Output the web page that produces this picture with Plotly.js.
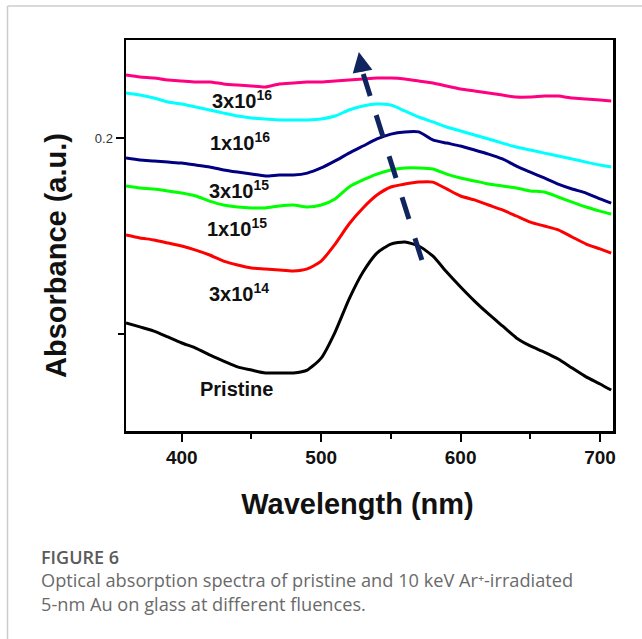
<!DOCTYPE html>
<html>
<head>
<meta charset="utf-8">
<script src="https://cdn.plot.ly/plotly-3.0.1.min.js"></script>
<style>
html,body{margin:0;padding:0;background:#fff;}
#chart{width:642px;height:639px;}
</style>
</head>
<body>
<div id="chart"></div>
<script>
// ---- data ----
const wavelength = [360,370,380,390,400,410,420,430,440,450,460,470,480,490,500,510,520,530,540,550,560,570,580,590,600,610,620,630,640,650,660,670,680,690,700,708];

const pristine = [0.1056,0.1036,0.1015,0.0985,0.0954,0.0928,0.0893,0.0862,0.0832,0.0816,0.0801,0.0801,0.0801,0.0816,0.0877,0.1010,0.1178,0.1316,0.1413,0.1459,0.1469,0.1449,0.1398,0.1316,0.1240,0.1168,0.1102,0.1041,0.0980,0.0939,0.0908,0.0872,0.0826,0.0781,0.0745,0.0714];
const f3e14 = [0.1505,0.1490,0.1480,0.1464,0.1449,0.1428,0.1403,0.1372,0.1352,0.1337,0.1332,0.1326,0.1321,0.1332,0.1372,0.1459,0.1561,0.1643,0.1709,0.1750,0.1765,0.1775,0.1775,0.1740,0.1704,0.1684,0.1658,0.1633,0.1602,0.1571,0.1551,0.1531,0.1495,0.1459,0.1434,0.1413];
const f1e15 = [0.1755,0.1745,0.1740,0.1730,0.1719,0.1704,0.1678,0.1658,0.1648,0.1643,0.1643,0.1653,0.1658,0.1648,0.1658,0.1689,0.1750,0.1786,0.1816,0.1837,0.1847,0.1847,0.1842,0.1816,0.1796,0.1781,0.1765,0.1755,0.1745,0.1730,0.1724,0.1699,0.1673,0.1648,0.1627,0.1612];
const f3e15 = [0.1898,0.1888,0.1883,0.1877,0.1872,0.1862,0.1852,0.1837,0.1826,0.1816,0.1806,0.1811,0.1811,0.1821,0.1847,0.1883,0.1923,0.1959,0.1995,0.2020,0.2031,0.2031,0.1990,0.1974,0.1959,0.1939,0.1918,0.1893,0.1857,0.1826,0.1796,0.1765,0.1740,0.1719,0.1689,0.1668];
const f1e16 = [0.2230,0.2219,0.2204,0.2184,0.2173,0.2158,0.2143,0.2127,0.2112,0.2102,0.2097,0.2092,0.2092,0.2092,0.2097,0.2112,0.2143,0.2163,0.2173,0.2168,0.2138,0.2107,0.2082,0.2056,0.2036,0.2015,0.1995,0.1974,0.1954,0.1939,0.1923,0.1908,0.1893,0.1877,0.1862,0.1852];
const f3e16 = [0.2321,0.2311,0.2306,0.2296,0.2291,0.2286,0.2286,0.2276,0.2270,0.2265,0.2260,0.2276,0.2281,0.2286,0.2286,0.2291,0.2296,0.2301,0.2306,0.2306,0.2301,0.2291,0.2281,0.2265,0.2250,0.2240,0.2230,0.2219,0.2209,0.2209,0.2214,0.2214,0.2204,0.2199,0.2194,0.2189];

const seriesNames = ['Pristine','3x10<sup>14</sup>','1x10<sup>15</sup>','3x10<sup>15</sup>','1x10<sup>16</sup>','3x10<sup>16</sup>'];
const seriesValues = [pristine, f3e14, f1e15, f3e15, f1e16, f3e16];
const seriesColors = ['#000000','#ff0000','#00ff00','#000080','#00ffff','#ff0080'];
// label anchor positions (wavelength, absorbance) of the in-plot labels
const labelX = [411.6, 418.1, 416.6, 418.1, 418.8, 420.2];
const labelY = [0.0719, 0.1214, 0.1543, 0.1735, 0.1982, 0.2194];

const xTicks = [400, 500, 600, 700];
const xMinorTicks = [450, 550, 650];
const yTicks = [0.2];
const yTickText = ['0.2'];
const yUnlabeledTicks = [0.1];

// red-shift arrow (dashed) : start, end of dashed body, tip
const arrowStart = [572.2, 0.1377];
const arrowEnd = [529.9, 0.2332];
const arrowTip = [527.0, 0.2439];

const captionTitle = 'FIGURE 6';
const captionLines = ['Optical absorption spectra of pristine and 10 keV Ar⁺-irradiated', '5-nm Au on glass at different fluences.'];

// ---- traces ----
const traces = seriesValues.map((v, i) => ({
  x: wavelength, y: v, type: 'scatter', mode: 'lines',
  name: seriesNames[i],
  line: {color: seriesColors[i], width: 3, shape: 'spline', smoothing: 0.6},
  hoverinfo: 'skip', showlegend: false
}));

const FONT = 'Arial, "Liberation Sans", Helvetica, sans-serif';
const CAP_FONT = '"Open Sans", "Noto Sans", sans-serif';

// plot area in px: x 126..613, y 40..431
const L = 126, R = 613, T = 40, B = 431;
const px2paperX = p => (p - L) / (R - L);
const px2paperY = p => (B - p) / (B - T);

const annotations = seriesNames.map((n, i) => ({
  x: labelX[i], y: labelY[i], xref: 'x', yref: 'y',
  text: n, showarrow: false, xanchor: 'left', yanchor: 'middle',
  font: {family: FONT, size: 20, weight: 'bold', color: '#111'}
}));

annotations.push({
  x: arrowTip[0], y: arrowTip[1], xref: 'x', yref: 'y',
  ax: 4, ay: 21, showarrow: true, arrowhead: 2, arrowsize: 1, arrowwidth: 4,
  arrowcolor: '#10245f', text: ''
});

annotations.push({
  x: px2paperX(39), y: px2paperY(556.5), xref: 'paper', yref: 'paper',
  text: captionTitle, showarrow: false, xanchor: 'left', yanchor: 'middle',
  font: {family: CAP_FONT, size: 18, weight: 600, color: '#5a5a5a'}
});
captionLines.forEach((t, i) => annotations.push({
  x: px2paperX(39), y: px2paperY(580 + i * 24), xref: 'paper', yref: 'paper',
  text: t, showarrow: false, xanchor: 'left', yanchor: 'middle',
  font: {family: CAP_FONT, size: 18.2, color: '#6a6a6a'}
}));

const shapes = [
  {type: 'line', xref: 'x', yref: 'y', x0: arrowStart[0], y0: arrowStart[1], x1: arrowEnd[0], y1: arrowEnd[1],
   line: {color: '#10245f', width: 5, dash: '23px,20px'}},
  // card frame (left and top thin gray lines)
  {type: 'line', xref: 'paper', yref: 'paper', x0: px2paperX(7.5), x1: px2paperX(7.5), y0: px2paperY(6), y1: px2paperY(639),
   line: {color: '#cccccc', width: 1.5}},
  {type: 'line', xref: 'paper', yref: 'paper', x0: px2paperX(7.5), x1: px2paperX(642), y0: px2paperY(6), y1: px2paperY(6),
   line: {color: '#cccccc', width: 1.5}}
];

const layout = {
  width: 642, height: 639,
  margin: {l: L, r: 642 - R, t: T, b: 639 - B, pad: 0},
  paper_bgcolor: '#ffffff', plot_bgcolor: '#ffffff',
  showlegend: false,
  xaxis: {
    range: [360, 709.3], autorange: false,
    tickmode: 'array', tickvals: xTicks, ticktext: xTicks.map(String),
    ticks: 'outside', ticklen: 8, tickwidth: 2, tickcolor: '#000',
    minor: {tickmode: 'array', tickvals: xMinorTicks, ticks: 'outside', ticklen: 5, tickwidth: 2, tickcolor: '#000'},
    tickfont: {family: FONT, size: 19, weight: 'bold', color: '#111'},
    showline: true, linewidth: 2.5, linecolor: '#000', mirror: true,
    showgrid: false, zeroline: false,
    title: {text: 'Wavelength (nm)', font: {family: FONT, size: 29, weight: 'bold', color: '#111'}, standoff: 27},
    automargin: false
  },
  yaxis: {
    range: [0.0505, 0.2500], autorange: false,
    tickmode: 'array', tickvals: yTicks, ticktext: yTickText,
    ticks: 'outside', ticklen: 8, tickwidth: 2, tickcolor: '#000',
    minor: {tickmode: 'array', tickvals: yUnlabeledTicks, ticks: 'outside', ticklen: 6, tickwidth: 2, tickcolor: '#000'},
    tickfont: {family: FONT, size: 13, color: '#333'},
    showline: true, linewidth: 2.5, linecolor: '#000', mirror: true,
    showgrid: false, zeroline: false,
    title: {text: 'Absorbance (a.u.)', font: {family: FONT, size: 29, weight: 'bold', color: '#111'}, standoff: 20},
    automargin: false
  },
  annotations: annotations,
  shapes: shapes
};

const gd = document.getElementById('chart');
Plotly.newPlot(gd, traces, layout, {staticPlot: true, displayModeBar: false}).then(() => {
  // the reference's axis titles sit slightly off the axis centres
  const yt = gd.querySelector('.ytitle');
  if (yt) yt.setAttribute('transform', 'translate(0,20) ' + (yt.getAttribute('transform') || ''));
  const xt = gd.querySelector('.xtitle');
  if (xt) xt.setAttribute('transform', 'translate(-12,0) ' + (xt.getAttribute('transform') || ''));
});
</script>
</body>
</html>
